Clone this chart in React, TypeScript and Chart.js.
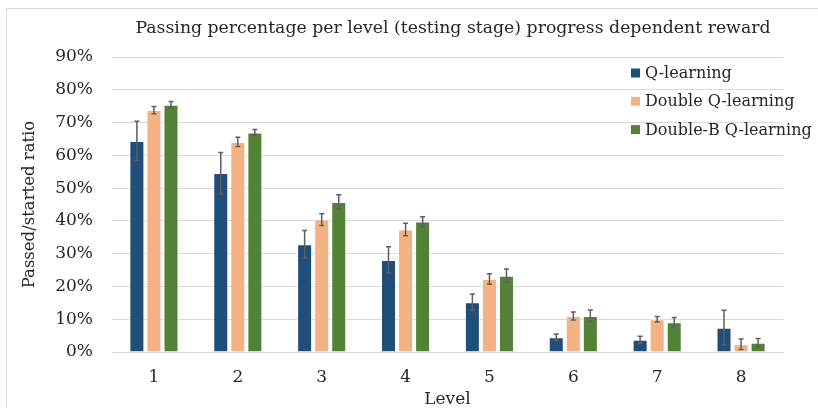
import React, { useEffect, useRef } from "react";
import { Chart, registerables } from "chart.js";

Chart.register(...registerables);

const chartTitle = "Passing percentage per level (testing stage) progress dependent reward";
const levels = ["1", "2", "3", "4", "5", "6", "7", "8"];
const seriesNames = ["Q-learning", "Double Q-learning", "Double-B Q-learning"];
const qLearning = [64.4, 54.6, 32.9, 28.1, 15.2, 4.5, 3.7, 7.4];
const qLearningErr = [6.0, 6.3, 4.2, 4.0, 2.5, 1.0, 1.1, 5.3];
const doubleQ = [73.8, 64.1, 40.4, 37.4, 22.3, 11.0, 10.0, 2.4];
const doubleQErr = [1.1, 1.4, 1.8, 1.9, 1.6, 1.2, 0.85, 1.6];
const doubleBQ = [75.4, 67.0, 45.8, 39.8, 23.3, 11.0, 9.1, 2.8];
const doubleBQErr = [1.0, 0.9, 2.2, 1.5, 2.0, 1.8, 1.4, 1.35];
const yTicks = [0, 10, 20, 30, 40, 50, 60, 70, 80, 90];

const colors = ["#1F4E79", "#F4B183", "#538135"];
const errors = [qLearningErr, doubleQErr, doubleBQErr];
const FONT = "'DejaVu Serif', serif";

const errorBarPlugin = {
  id: "errorBars",
  afterDatasetsDraw(chart: any) {
    const ctx = chart.ctx;
    const yScale = chart.scales.y;
    ctx.save();
    ctx.strokeStyle = "#5f5f5f";
    ctx.lineWidth = 1.5;
    chart.data.datasets.forEach((ds: any, di: number) => {
      const meta = chart.getDatasetMeta(di);
      meta.data.forEach((bar: any, i: number) => {
        const v = ds.data[i];
        const e = errors[di][i];
        const x = bar.x;
        const yTop = yScale.getPixelForValue(v + e);
        const yBot = yScale.getPixelForValue(Math.max(0, v - e));
        ctx.beginPath();
        ctx.moveTo(x, yTop);
        ctx.lineTo(x, yBot);
        ctx.moveTo(x - 2.5, yTop);
        ctx.lineTo(x + 2.5, yTop);
        ctx.moveTo(x - 2.5, yBot);
        ctx.lineTo(x + 2.5, yBot);
        ctx.stroke();
      });
    });
    ctx.restore();
  },
};

const titleAndLegendPlugin = {
  id: "titleAndLegend",
  afterDraw(chart: any) {
    const ctx = chart.ctx;
    ctx.save();
    // title
    ctx.font = `17.3px ${FONT}`;
    ctx.fillStyle = "#262626";
    ctx.textAlign = "center";
    ctx.textBaseline = "middle";
    ctx.fillText(chartTitle, 453, 29);
    // legend
    ctx.font = `16px ${FONT}`;
    ctx.textAlign = "left";
    const x0 = 631;
    const y0 = 73;
    const step = 28.3;
    chart.data.datasets.forEach((ds: any, i: number) => {
      const cy = y0 + i * step;
      ctx.fillStyle = ds.backgroundColor;
      ctx.fillRect(x0, cy - 4.5, 9, 9);
      ctx.fillStyle = "#262626";
      ctx.fillText(ds.label, x0 + 14, cy + 1);
    });
    ctx.restore();
  },
};

export default function App() {
  const canvasRef = useRef<HTMLCanvasElement | null>(null);

  useEffect(() => {
    if (!canvasRef.current) return;
    const values = [qLearning, doubleQ, doubleBQ];
    const chart = new Chart(canvasRef.current, {
      type: "bar",
      data: {
        labels: levels,
        datasets: seriesNames.map((name, i) => ({
          label: name,
          data: values[i],
          backgroundColor: colors[i],
          borderColor: "rgba(255,255,255,0.45)",
          borderWidth: 1,
          categoryPercentage: 0.61,
          barPercentage: 0.88,
        })),
      },
      options: {
        responsive: false,
        animation: false,
        devicePixelRatio: 1,
        layout: { padding: { left: 0, right: 35, top: 57, bottom: 0 } },
        plugins: {
          legend: { display: false },
          tooltip: { enabled: false },
          title: { display: false },
        },
        scales: {
          x: {
            grid: { display: false, drawTicks: false },
            border: { display: true, color: "#d9d9d9", width: 1 },
            ticks: {
              color: "#262626",
              font: { family: FONT, size: 17, lineHeight: 1.2 },
              padding: 15.8,
            },
            title: {
              display: true,
              text: "Level",
              color: "#262626",
              font: { family: FONT, size: 17, lineHeight: 1.0 },
              padding: { top: 0, bottom: 0 },
            },
            afterFit: (scale: any) => {
              scale.height = 56;
            },
          },
          y: {
            min: 0,
            max: 90,
            afterBuildTicks: (scale: any) => {
              scale.ticks = yTicks.map((v) => ({ value: v }));
            },
            grid: { color: "#d9d9d9", lineWidth: 1, drawTicks: false },
            border: { display: false },
            ticks: {
              color: "#262626",
              font: { family: FONT, size: 17 },
              padding: 19,
              callback: (v: any) => `${v}%`,
            },
            title: {
              display: true,
              text: "Passed/started ratio",
              color: "#262626",
              font: { family: FONT, size: 16.5, lineHeight: 1.2 },
              padding: { top: 19.4, bottom: 0 },
            },
            afterFit: (scale: any) => {
              scale.width = 112;
            },
          },
        },
      },
      plugins: [errorBarPlugin, titleAndLegendPlugin],
    });
    return () => chart.destroy();
  }, []);

  return (
    <div style={{ position: "fixed", left: 0, top: 0, width: 818, height: 408, background: "#fff", overflow: "hidden" }}>
      <div
        style={{
          position: "absolute",
          left: 6,
          top: 8,
          width: 830,
          height: 420,
          border: "1px solid #d9d9d9",
          boxSizing: "border-box",
        }}
      />
      <canvas ref={canvasRef} width={818} height={408} style={{ position: "absolute", left: 0, top: 0, display: "block" }} />
    </div>
  );
}
